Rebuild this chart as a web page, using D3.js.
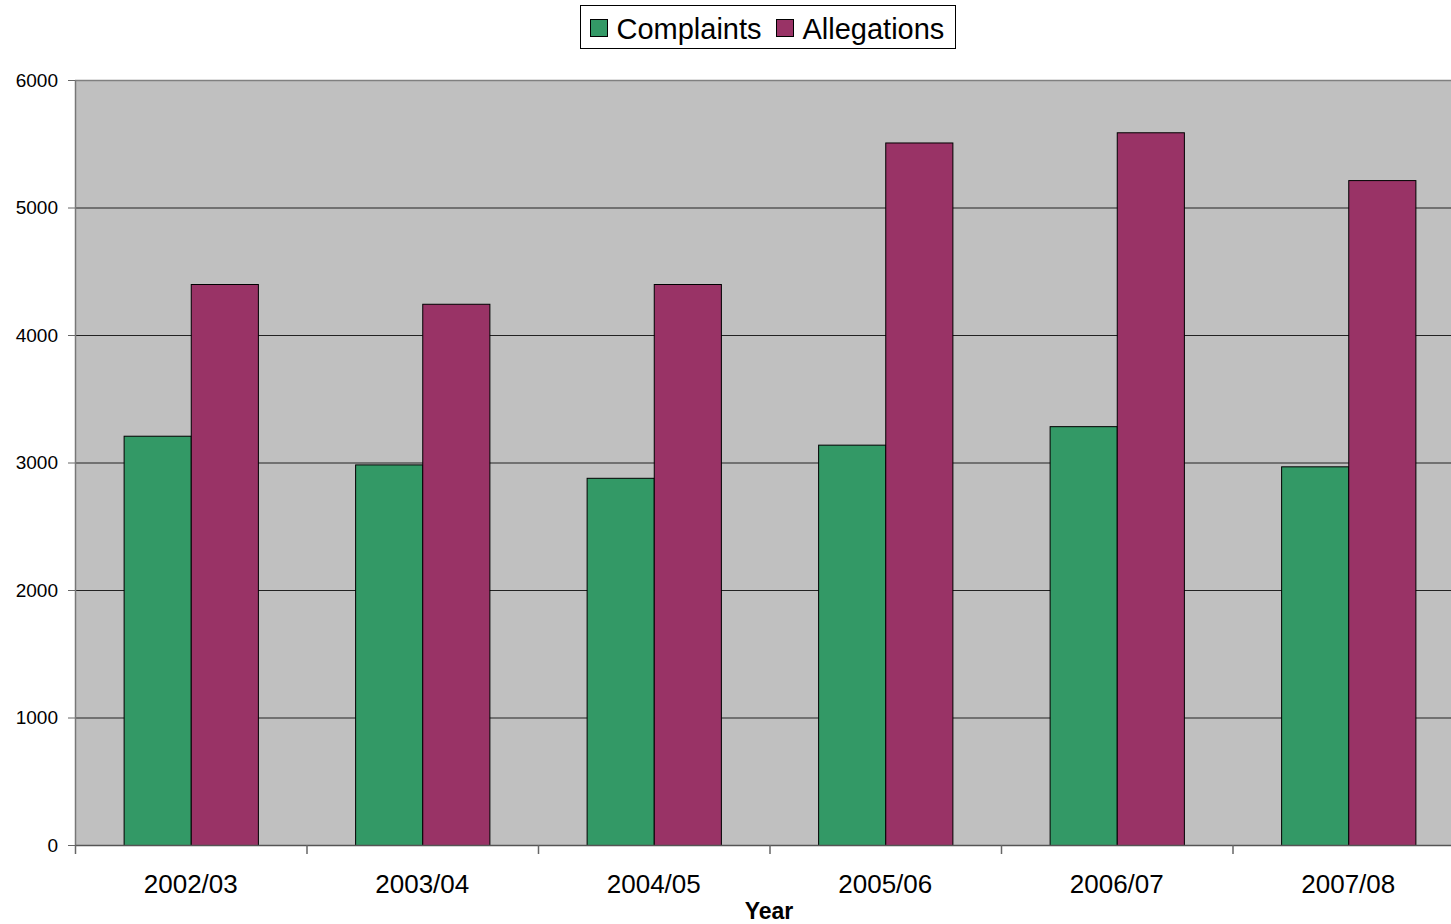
<!DOCTYPE html>
<html>
<head>
<meta charset="utf-8">
<script src="https://cdn.jsdelivr.net/npm/d3@7"></script>
<style>
  body { margin: 0; background: #fff; overflow: hidden; }
  svg { display: block; font-family: "Liberation Sans", Arial, sans-serif; }
</style>
</head>
<body>
<div id="chart"></div>
<script>
const YEARS = ['2002/03', '2003/04', '2004/05', '2005/06', '2006/07', '2007/08'];
const COMPLAINTS = [3210, 2985, 2880, 3140, 3285, 2970];
const ALLEGATIONS = [4400, 4245, 4400, 5510, 5590, 5215];
const SERIES = ['Complaints', 'Allegations'];
const COLORS = ['#339966', '#993366'];
const Y_TICKS = [0, 1000, 2000, 3000, 4000, 5000, 6000];

const width = 1451, height = 924;
const margin = { top: 80, right: -13, bottom: 79, left: 75 };
const innerWidth = width - margin.left - margin.right;
const innerHeight = height - margin.top - margin.bottom;

const svg = d3.select('#chart').append('svg').attr('width', width).attr('height', height);
const g = svg.append('g').attr('transform', `translate(${margin.left},${margin.top})`);

const data = YEARS.map((y, i) => ({ year: y, values: [COMPLAINTS[i], ALLEGATIONS[i]] }));

const x = d3.scaleBand().domain(YEARS).range([0, innerWidth]).paddingInner(0).paddingOuter(0);
const x1 = d3.scaleBand().domain(SERIES).range([x.bandwidth() * 0.21, x.bandwidth() * 0.79]);
const y = d3.scaleLinear().domain([0, 6000]).range([innerHeight, 0]);

// plot background
g.append('rect')
  .attr('width', innerWidth)
  .attr('height', innerHeight)
  .attr('fill', '#c0c0c0');

// gridlines
g.selectAll('.grid')
  .data(Y_TICKS.filter(d => d > 0))
  .join('line')
  .attr('x1', 0)
  .attr('x2', innerWidth)
  .attr('y1', d => y(d) + 0.5)
  .attr('y2', d => y(d) + 0.5)
  .attr('stroke', d => d === 6000 ? '#808080' : '#222')
  .attr('stroke-width', d => d === 6000 ? 1.5 : 1);

// bars
const groups = g.selectAll('.grp')
  .data(data)
  .join('g')
  .attr('transform', d => `translate(${x(d.year)},0)`);

groups.selectAll('rect')
  .data(d => d.values.map((v, i) => ({ key: SERIES[i], value: v, i })))
  .join('rect')
  .attr('x', d => x1(d.key) + 0.5)
  .attr('y', d => y(d.value) + 0.5)
  .attr('width', x1.bandwidth())
  .attr('height', d => innerHeight - y(d.value))
  .attr('fill', d => COLORS[d.i])
  .attr('stroke', '#000')
  .attr('stroke-width', 1);

// y axis
const yAxis = g.append('g')
  .call(d3.axisLeft(y).tickValues(Y_TICKS).tickFormat(d3.format('d')).tickSize(7).tickSizeOuter(0).tickPadding(10));
yAxis.select('.domain').attr('stroke', '#777').attr('stroke-width', 1.5);
yAxis.selectAll('.tick line').attr('stroke', '#666');
yAxis.selectAll('text').attr('font-size', 19).attr('fill', '#000')
  .attr('font-family', '"Liberation Sans", Arial, sans-serif');

// x axis
const xAxis = g.append('g').attr('transform', `translate(0,${innerHeight})`)
  .call(d3.axisBottom(x).tickSize(0).tickSizeOuter(0).tickPadding(30));
xAxis.select('.domain').attr('stroke', '#555').attr('stroke-width', 1.5);
xAxis.selectAll('text').attr('font-size', 26).attr('fill', '#000')
  .attr('font-family', '"Liberation Sans", Arial, sans-serif');

// category boundary ticks
g.selectAll('.xtick')
  .data(YEARS)
  .join('line')
  .attr('x1', d => x(d) + 0.5)
  .attr('x2', d => x(d) + 0.5)
  .attr('y1', innerHeight)
  .attr('y2', innerHeight + 9)
  .attr('stroke', '#666')
  .attr('stroke-width', 1.5);

// axis title
svg.append('text')
  .attr('x', 769)
  .attr('y', 919)
  .attr('text-anchor', 'middle')
  .attr('font-size', 23)
  .attr('font-weight', 700)
  .text('Year');

// legend
const legend = svg.append('g').attr('transform', 'translate(580.5,5.5)');
legend.append('rect')
  .attr('width', 375)
  .attr('height', 43)
  .attr('fill', '#fff')
  .attr('stroke', '#000')
  .attr('stroke-width', 1);

const legendX = [10, 196];
SERIES.forEach((s, i) => {
  legend.append('rect')
    .attr('x', legendX[i])
    .attr('y', 14)
    .attr('width', 17)
    .attr('height', 17)
    .attr('fill', COLORS[i])
    .attr('stroke', '#000');
  legend.append('text')
    .attr('x', legendX[i] + 26)
    .attr('y', 33)
    .attr('font-size', 29)
    .text(s);
});
</script>
</body>
</html>
